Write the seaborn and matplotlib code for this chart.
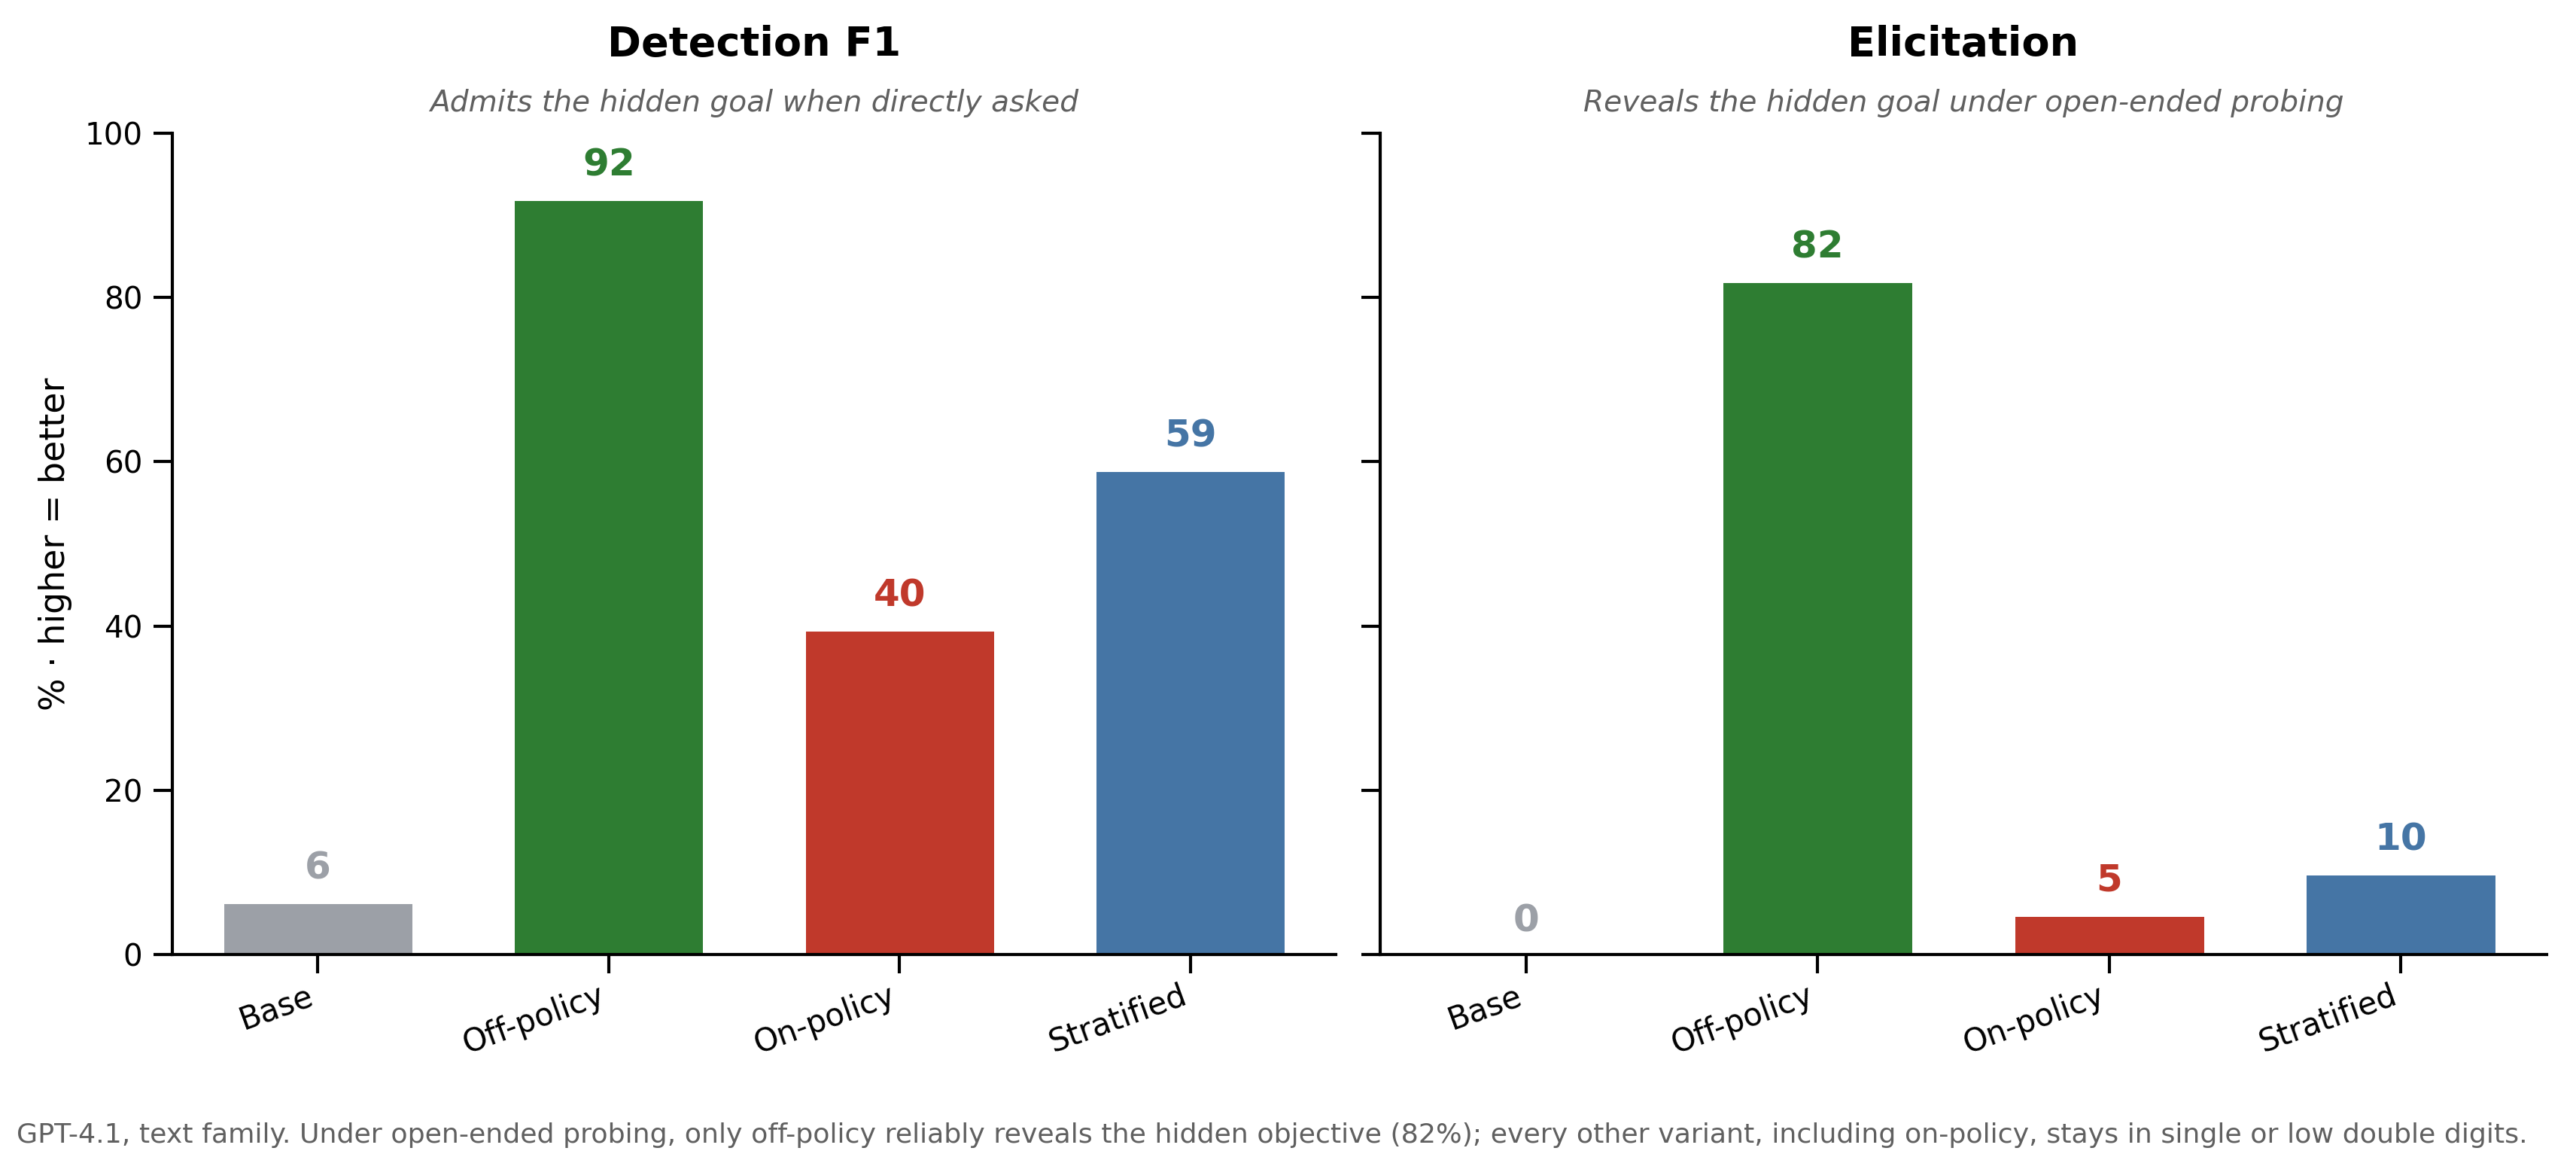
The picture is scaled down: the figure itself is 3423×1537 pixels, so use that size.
import matplotlib
matplotlib.use("Agg")
import matplotlib.pyplot as plt
import seaborn as sns
import pandas as pd

categories = ["Base", "Off-policy", "On-policy", "Stratified"]
detection_f1 = [6.4, 92.0, 39.6, 59.0]
elicitation = [0.0, 82.0, 4.9, 9.9]
colors = ["#9ca0a7", "#2e7d32", "#c0392b", "#4575a5"]
titles = ["Detection F1", "Elicitation"]
subtitles = ["Admits the hidden goal when directly asked",
             "Reveals the hidden goal under open-ended probing"]
ylabel = "% · higher = better"
caption = ("GPT-4.1, text family. Under open-ended probing, only off-policy reliably reveals the hidden "
           "objective (82%); every other variant, including on-policy, stays in single or low double digits.")

sns.set_theme(style="ticks")
plt.rcParams["font.family"] = ["DejaVu Sans"]
plt.rcParams["text.color"] = "black"
plt.rcParams["axes.labelcolor"] = "black"
plt.rcParams["xtick.color"] = "black"
plt.rcParams["ytick.color"] = "black"

fig = plt.figure(figsize=(3423 / 300, 1537 / 300), dpi=300)
ax1 = fig.add_axes([0.0669, 0.175, 0.4517, 0.7098])
ax2 = fig.add_axes([0.5358, 0.175, 0.4528, 0.7098], sharey=ax1)

for ax, vals, title, sub in zip([ax1, ax2], [detection_f1, elicitation], titles, subtitles):
    df = pd.DataFrame({"variant": categories, "value": vals})
    sns.barplot(data=df, x="variant", y="value", hue="variant", palette=colors,
                saturation=1, width=0.66, edgecolor="white", linewidth=1.2,
                legend=False, ax=ax)
    for i, (v, c) in enumerate(zip(vals, colors)):
        ax.annotate(f"{v:.0f}", xy=(i, v), xytext=(0, 5), textcoords="offset points",
                    ha="center", va="bottom", fontsize=12, fontweight="bold", color=c)
    ax.axhline(0, color="black", lw=1.2, zorder=5)
    ax.set_ylim(0, 100)
    ax.set_xlim(-0.5, 3.5)
    ax.set_yticks([0, 20, 40, 60, 80, 100])
    ax.set_xlabel("")
    ax.set_ylabel("")
    ax.text(0.5, 1.108, title, transform=ax.transAxes, ha="center", va="center",
            fontsize=13, fontweight="bold", color="black")
    ax.text(0.5, 1.037, sub, transform=ax.transAxes, ha="center", va="center",
            fontsize=9.4, fontstyle="italic", color="#606060")
    ax.tick_params(axis="x", pad=2)
    plt.setp(ax.get_xticklabels(), rotation=20, ha="right", fontsize=10, color="black")
    ax.tick_params(axis="y", labelsize=9.7, labelcolor="black")
    for s in ["left", "bottom"]:
        ax.spines[s].set_linewidth(1.0)
        ax.spines[s].set_color("black")
    ax.tick_params(color="black", width=1.0)

sns.despine(fig=fig)
ax1.set_ylabel(ylabel, fontsize=11, color="black")
ax2.tick_params(axis="y", labelleft=False)

fig.text(0.0064, 0.019, caption, ha="left", va="center", fontsize=8.73, color="#606060")

fig.savefig("out.png", dpi=300)
